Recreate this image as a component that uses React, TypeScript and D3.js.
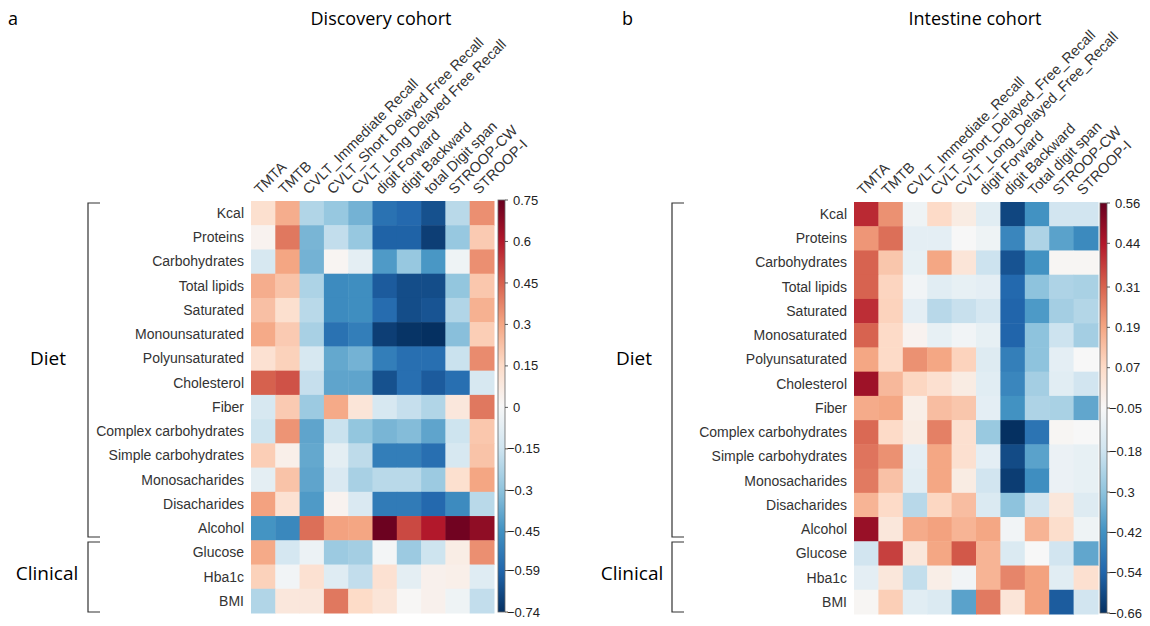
import React from "react";
import * as d3 from "d3";

// row (diet / clinical) variables, shared by both panels
const rowLabelsA = ["Kcal", "Proteins", "Carbohydrates", "Total lipids", "Saturated", "Monounsaturated", "Polyunsaturated", "Cholesterol", "Fiber", "Complex carbohydrates", "Simple carbohydrates", "Monosacharides", "Disacharides", "Alcohol", "Glucose", "Hba1c", "BMI"];
const rowLabelsB = ["Kcal", "Proteins", "Carbohydrates", "Total lipids", "Saturated", "Monosaturated", "Polyunsaturated", "Cholesterol", "Fiber", "Complex carbohydrates", "Simple carbohydrates", "Monosacharides", "Disacharides", "Alcohol", "Glucose", "Hba1c", "BMI"];

const colsA = ["TMTA", "TMTB", "CVLT_Immediate Recall", "CVLT_Short Delayed Free Recall", "CVLT_Long Delayed Free Recall", "digit Forward", "digit Backward", "total Digit span", "STROOP-CW", "STROOP-I"];
const colsB = ["TMTA", "TMTB", "CVLT_Immediate_Recall", "CVLT_Short_Delayed_Free_Recall", "CVLT_Long_Delayed_Free_Recall", "digit Forward", "digit Backward", "Total digit span", "STROOP-CW", "STROOP-I"];

// discovery cohort correlations (rows x cols)
const discovery = [
  [0.13, 0.28, -0.22, -0.28, -0.35, -0.55, -0.58, -0.65, -0.2, 0.35],
  [0.03, 0.4, -0.34, -0.18, -0.28, -0.6, -0.6, -0.7, -0.28, 0.2],
  [-0.12, 0.3, -0.35, 0.02, -0.07, -0.42, -0.28, -0.43, -0.03, 0.35],
  [0.28, 0.22, -0.23, -0.47, -0.46, -0.62, -0.66, -0.66, -0.29, 0.21],
  [0.23, 0.13, -0.2, -0.47, -0.46, -0.57, -0.66, -0.64, -0.22, 0.27],
  [0.29, 0.2, -0.24, -0.55, -0.51, -0.7, -0.73, -0.74, -0.31, 0.19],
  [0.12, 0.18, -0.12, -0.38, -0.35, -0.51, -0.56, -0.56, -0.16, 0.36],
  [0.45, 0.48, -0.17, -0.39, -0.39, -0.65, -0.56, -0.62, -0.56, -0.12],
  [-0.12, 0.2, -0.27, 0.29, 0.1, -0.12, -0.17, -0.22, 0.09, 0.4],
  [-0.15, 0.34, -0.39, -0.16, -0.29, -0.34, -0.32, -0.39, -0.15, 0.21],
  [0.19, 0.05, -0.38, -0.07, -0.19, -0.51, -0.51, -0.56, -0.12, 0.22],
  [-0.07, 0.22, -0.39, -0.11, -0.24, -0.2, -0.2, -0.27, 0.13, 0.3],
  [0.31, 0.12, -0.42, 0.03, -0.11, -0.52, -0.52, -0.58, -0.47, -0.2],
  [-0.44, -0.48, 0.42, 0.31, 0.3, 0.74, 0.5, 0.6, 0.73, 0.67],
  [0.29, -0.13, -0.04, -0.27, -0.25, -0.01, -0.27, -0.15, 0.06, 0.35],
  [0.18, -0.02, 0.12, -0.09, -0.18, 0.12, -0.07, 0.04, 0.05, -0.09],
  [-0.22, 0.09, 0.09, 0.4, 0.15, 0.1, 0.01, 0.04, -0.03, -0.18],
];

// intestine cohort correlations
const intestine = [
  [0.41, 0.23, -0.08, 0.07, 0.0, -0.12, -0.61, -0.42, -0.17, -0.17],
  [0.22, 0.29, -0.11, -0.11, -0.05, -0.08, -0.45, -0.24, -0.38, -0.44],
  [0.31, 0.12, -0.1, 0.19, 0.03, -0.18, -0.58, -0.42, -0.04, -0.04],
  [0.31, 0.085, -0.07, -0.12, -0.1, -0.11, -0.53, -0.3, -0.24, -0.25],
  [0.4, 0.09, -0.11, -0.22, -0.19, -0.16, -0.54, -0.4, -0.26, -0.23],
  [0.31, 0.07, -0.03, -0.1, -0.07, -0.1, -0.54, -0.3, -0.18, -0.26],
  [0.19, 0.07, 0.23, 0.19, 0.09, -0.13, -0.47, -0.3, -0.11, -0.05],
  [0.47, 0.15, 0.08, 0.05, 0.0, -0.12, -0.45, -0.26, -0.12, -0.17],
  [0.18, 0.19, -0.01, 0.14, 0.12, -0.11, -0.42, -0.24, -0.25, -0.37],
  [0.3, 0.07, 0.0, 0.26, 0.05, -0.28, -0.66, -0.5, -0.04, -0.05],
  [0.28, 0.23, -0.11, 0.19, 0.05, -0.11, -0.6, -0.38, -0.09, -0.1],
  [0.27, 0.13, -0.12, 0.19, 0.0, -0.17, -0.63, -0.43, -0.09, -0.1],
  [0.16, 0.07, -0.22, 0.08, 0.14, -0.14, -0.3, -0.17, 0.02, -0.13],
  [0.48, 0.02, 0.18, 0.2, 0.16, 0.19, -0.07, 0.16, 0.06, -0.08],
  [-0.17, 0.37, 0.02, 0.19, 0.33, 0.16, -0.14, -0.05, -0.17, -0.37],
  [-0.11, 0.02, -0.2, -0.01, -0.07, 0.16, 0.25, 0.2, -0.12, 0.05],
  [-0.04, 0.1, -0.12, -0.14, -0.38, 0.27, 0.03, 0.2, -0.56, -0.17],
];

const ticksA = [0.75, 0.6, 0.45, 0.3, 0.15, 0, -0.15, -0.3, -0.45, -0.59, -0.74];
const ticksB = [0.56, 0.44, 0.31, 0.19, 0.07, -0.05, -0.18, -0.3, -0.42, -0.54, -0.66];

// RdBu (red at the high end), linearly interpolated between the brewer stops
const rdbu = ["#67001f", "#b2182b", "#d6604d", "#f4a582", "#fddbc7", "#f7f7f7", "#d1e5f0", "#92c5de", "#4393c3", "#2166ac", "#053061"];

const labelFont = "Liberation Sans";
const titleFont = "Open Sans";

function Heatmap({ id, rows, cols, values, ticks, x0, x1, y0, y1, cbX, cbY0, cbY1 }) {
  const vmax = ticks[0];
  const vmin = ticks[ticks.length - 1];
  const color = d3
    .scaleLinear<string>()
    .domain(rdbu.map((_, i) => vmax + (i / (rdbu.length - 1)) * (vmin - vmax)))
    .range(rdbu)
    .interpolate(d3.interpolateRgb)
    .clamp(true);
  const x = d3.scaleBand().domain(cols).range([x0, x1]);
  const y = d3.scaleBand().domain(rows).range([y0, y1]);
  const cb = d3.scaleLinear().domain([vmin, vmax]).range([cbY1, cbY0]);
  const cbW = 7;
  return (
    <g>
      <defs>
        <linearGradient id={id} x1="0" y1="0" x2="0" y2="1">
          {rdbu.map((c, i) => (
            <stop key={i} offset={i / (rdbu.length - 1)} stopColor={c} />
          ))}
        </linearGradient>
      </defs>
      {values.map((row, i) =>
        row.map((v, j) => (
          <rect key={i + "-" + j} x={x(cols[j])} y={y(rows[i])} width={x.bandwidth() + 0.5} height={y.bandwidth() + 0.5} fill={color(v)} />
        ))
      )}
      {rows.map((r) => (
        <text key={r} x={x0 - 7} y={y(r) + y.bandwidth() / 2} dy="0.35em" textAnchor="end" fontSize={14} fontFamily={labelFont} fill="#333">
          {r}
        </text>
      ))}
      {cols.map((c) => {
        const cx = x(c) + x.bandwidth() / 2 - 3;
        const cy = y0 - 6;
        return (
          <text key={c} transform={`translate(${cx},${cy}) rotate(-45)`} fontSize={14.5} fontFamily={labelFont} fill="#333">
            {c}
          </text>
        );
      })}
      <rect x={cbX} y={cbY0} width={cbW} height={cbY1 - cbY0} fill={`url(#${id})`} stroke="#666" strokeWidth={0.8} />
      {ticks.map((t) => (
        <g key={t}>
          <line x1={cbX + cbW} x2={cbX + cbW + 3} y1={cb(t)} y2={cb(t)} stroke="#333" strokeWidth={0.8} />
          <text x={t < 0 ? cbX + cbW + 2 : cbX + cbW + 8} y={cb(t)} dy="0.35em" fontSize={13} fontFamily={labelFont} fill="#222">
            {t < 0 ? "\u2212" + String(Math.abs(t)) : String(t)}
          </text>
        </g>
      ))}
    </g>
  );
}

function Bracket({ x, y0, y1 }) {
  return <path d={`M${x + 12},${y0}H${x}V${y1}H${x + 12}`} fill="none" stroke="#333" strokeWidth={1.2} />;
}

export default function App() {
  return (
    <svg width={1150} height={626} style={{ position: "absolute", left: 0, top: 0, background: "#fff" }}>
      <text x={8} y={25} fontSize={18} fontFamily={titleFont}>a</text>
      <text x={381} y={25} fontSize={18} fontFamily={titleFont} textAnchor="middle">Discovery cohort</text>
      <text x={622} y={25} fontSize={18} fontFamily={titleFont}>b</text>
      <text x={975} y={25} fontSize={18} fontFamily={titleFont} textAnchor="middle">Intestine cohort</text>

      <Heatmap id="cbA" rows={rowLabelsA} cols={colsA} values={discovery} ticks={ticksA} x0={251} x1={494} y0={201} y1={613} cbX={498} cbY0={200} cbY1={612} />
      <Heatmap id="cbB" rows={rowLabelsB} cols={colsB} values={intestine} ticks={ticksB} x0={854} x1={1098} y0={202} y1={614} cbX={1100} cbY0={203} cbY1={613} />

      <Bracket x={88} y0={203} y1={537} />
      <Bracket x={88} y0={542} y1={612} />
      <text x={48} y={358} dy="0.35em" fontSize={19} fontFamily={titleFont} textAnchor="middle">Diet</text>
      <text x={47} y={573} dy="0.35em" fontSize={19} fontFamily={titleFont} textAnchor="middle">Clinical</text>

      <Bracket x={672} y0={203} y1={537} />
      <Bracket x={672} y0={542} y1={612} />
      <text x={634} y={358} dy="0.35em" fontSize={19} fontFamily={titleFont} textAnchor="middle">Diet</text>
      <text x={632} y={573} dy="0.35em" fontSize={19} fontFamily={titleFont} textAnchor="middle">Clinical</text>
    </svg>
  );
}
